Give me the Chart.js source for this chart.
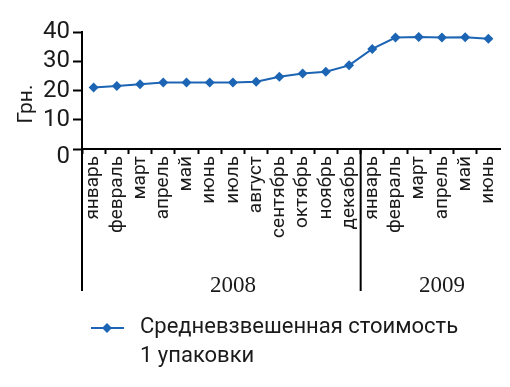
<!DOCTYPE html>
<html><head><meta charset="utf-8">
<script src="https://cdn.jsdelivr.net/npm/chart.js@4/dist/chart.umd.min.js"></script>
<style>html,body{margin:0;padding:0;background:#fff;}#c{display:block;}</style>
</head><body>
<div style="width:510px;height:387px;position:relative"><canvas id="c" width="510" height="387"></canvas></div>
<script>
const categories = ['январь','февраль','март','апрель','май','июнь','июль','август','сентябрь','октябрь','ноябрь','декабрь','январь','февраль','март','апрель','май','июнь'];
const values = [21.0, 21.5, 22.1, 22.7, 22.7, 22.7, 22.7, 23.0, 24.7, 25.8, 26.4, 28.6, 34.2, 38.1, 38.3, 38.1, 38.2, 37.7];
const years = ['2008', '2009'];
const yTicks = [0, 10, 20, 30, 40];
const seriesLabel = ['Средневзвешенная стоимость', '1 упаковки'];
const yTitle = 'Грн.';

const LINE = '#1c64b4';
const TXT = '#1a1a1a';
const SANS = 'Roboto, "Noto Sans", sans-serif';

const extras = {
  id: 'extras',
  afterDraw(chart) {
    const ctx = chart.ctx, ca = chart.chartArea;
    const xs = chart.scales.x, ys = chart.scales.y;
    ctx.save();
    ctx.strokeStyle = '#000';
    ctx.lineWidth = 2;
    ctx.beginPath();
    ctx.moveTo(ca.left, ca.bottom);
    ctx.lineTo(ca.left, 291);
    ctx.stroke();
    const sep = (xs.getPixelForValue(11) + xs.getPixelForValue(12)) / 2;
    ctx.beginPath();
    ctx.moveTo(sep, ca.bottom);
    ctx.lineTo(sep, 291);
    ctx.stroke();
    ctx.fillStyle = TXT;
    ctx.font = '23px "Liberation Serif", "DejaVu Serif", serif';
    ctx.textAlign = 'center';
    ctx.textBaseline = 'alphabetic';
    ctx.fillText(years[0], xs.getPixelForValue(6), 292);
    ctx.fillText(years[1], xs.getPixelForValue(15), 292);
    ctx.font = '24px ' + SANS;
    ctx.textAlign = 'right';
    ctx.textBaseline = 'middle';
    ctx.fillText(String(yTicks[0]), 70, ys.getPixelForValue(0) + 8);
    ctx.save();
    ctx.translate(27, 104);
    ctx.rotate(-Math.PI / 2);
    ctx.font = '21px ' + SANS;
    ctx.textAlign = 'center';
    ctx.textBaseline = 'middle';
    ctx.fillText(yTitle, 0, 0);
    ctx.restore();
    ctx.strokeStyle = LINE;
    ctx.lineWidth = 2;
    ctx.beginPath();
    ctx.moveTo(91, 328);
    ctx.lineTo(124, 328);
    ctx.stroke();
    ctx.fillStyle = LINE;
    ctx.beginPath();
    ctx.moveTo(107, 323); ctx.lineTo(112, 328); ctx.lineTo(107, 333); ctx.lineTo(102, 328);
    ctx.closePath(); ctx.fill();
    ctx.fillStyle = TXT;
    ctx.font = '22px ' + SANS;
    ctx.textAlign = 'left';
    ctx.textBaseline = 'alphabetic';
    ctx.fillText(seriesLabel[0], 140, 333);
    ctx.fillText(seriesLabel[1], 140, 362);
    ctx.restore();
  }
};

new Chart(document.getElementById('c'), {
  type: 'line',
  data: {
    labels: categories,
    datasets: [{
      label: seriesLabel.join(' '),
      data: values,
      borderColor: LINE,
      backgroundColor: LINE,
      borderWidth: 2,
      pointStyle: 'rectRot',
      pointRadius: 5,
      pointBorderWidth: 0,
      tension: 0
    }]
  },
  options: {
    responsive: false,
    animation: false,
    devicePixelRatio: 1,
    layout: { padding: { top: 32, right: 10, left: 0, bottom: 0 } },
    plugins: { legend: { display: false }, tooltip: { enabled: false } },
    scales: {
      x: {
        offset: true,
        grid: {
          offset: true,
          drawOnChartArea: false,
          tickLength: 5,
          tickWidth: 2,
          color: (c) => (c.type === 'scale' ? 'rgba(0,0,0,0)' : '#000')
        },
        border: { display: true, color: '#000', width: 2 },
        ticks: {
          autoSkip: false,
          minRotation: 90,
          maxRotation: 90,
          padding: 2,
          color: TXT,
          font: { family: SANS, size: 19 }
        },
        afterFit(s) { s.height = 238; s.paddingLeft = 0; s.paddingRight = 0; }
      },
      y: {
        min: 0,
        max: 40,
        afterBuildTicks(s) { s.ticks = yTicks.map(v => ({ value: v })); },
        grid: {
          drawOnChartArea: false,
          tickLength: 9,
          tickWidth: 2,
          color: '#000'
        },
        border: { display: true, color: '#000', width: 2 },
        ticks: {
          autoSkip: false,
          padding: 3,
          color: (c) => (c.tick && c.tick.value === 0 ? 'rgba(0,0,0,0)' : TXT),
          font: { family: SANS, size: 24 }
        },
        afterFit(s) { s.width = 82; }
      }
    }
  },
  plugins: [extras]
});
</script>
</body></html>
